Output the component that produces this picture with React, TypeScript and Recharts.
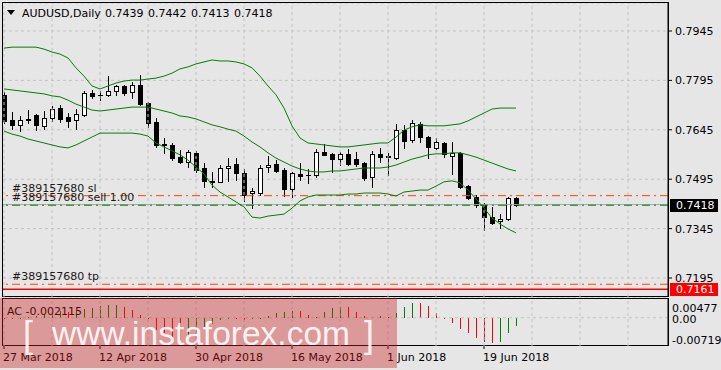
import React from 'react';
import { ComposedChart, Bar, Line, XAxis, YAxis, CartesianGrid, ReferenceLine, ReferenceArea } from 'recharts';

const FONT = 'DejaVu Sans';

const dateTickIdx = [0, 12, 24, 36, 48, 60];
const dateTickLabels = ['27 Mar 2018', '12 Apr 2018', '30 Apr 2018', '16 May 2018', '1 Jun 2018', '19 Jun 2018'];
const gridX = [0, 6, 12, 18, 24, 30, 36, 42, 48, 54, 60, 66, 72, 78];
const priceTicks = [0.7195, 0.7345, 0.7495, 0.7645, 0.7795, 0.7945];
const acTicks = [-0.00719, 0, 0.00477];

const opens = [0.7750, 0.7675, 0.7660, 0.7675, 0.7690, 0.7657, 0.7681, 0.7711, 0.7684, 0.7675,
  0.7690, 0.7757, 0.7751, 0.7751, 0.7763, 0.7778, 0.7760, 0.7781, 0.7726, 0.7669,
  0.7602, 0.7599, 0.7562, 0.7547, 0.7575, 0.7529, 0.7490, 0.7487, 0.7529, 0.7541,
  0.7514, 0.7453, 0.7453, 0.7532, 0.7541, 0.7523, 0.7465, 0.7511, 0.7508, 0.7508,
  0.7578, 0.7572, 0.7556, 0.7572, 0.7556, 0.7544, 0.7502, 0.7572, 0.7566, 0.7559,
  0.7644, 0.7614, 0.7663, 0.7623, 0.7590, 0.7605, 0.7566, 0.7575, 0.7474, 0.7441,
  0.7420, 0.7380, 0.7368, 0.7374, 0.7439];
const highs = [0.7760, 0.7699, 0.7687, 0.7705, 0.7692, 0.7702, 0.7717, 0.7720, 0.7696, 0.7708,
  0.7763, 0.7766, 0.7763, 0.7808, 0.7781, 0.7781, 0.7790, 0.7811, 0.7728, 0.7681,
  0.7620, 0.7605, 0.7584, 0.7584, 0.7581, 0.7544, 0.7517, 0.7538, 0.7559, 0.7559,
  0.7526, 0.7468, 0.7538, 0.7566, 0.7553, 0.7529, 0.7517, 0.7544, 0.7526, 0.7587,
  0.7602, 0.7574, 0.7578, 0.7587, 0.7578, 0.7547, 0.7581, 0.7590, 0.7575, 0.7663,
  0.7660, 0.7675, 0.7669, 0.7625, 0.7620, 0.7607, 0.7608, 0.7578, 0.7477, 0.7447,
  0.7423, 0.7411, 0.7389, 0.7441, 0.7442];
const lows = [0.7665, 0.7647, 0.7641, 0.7666, 0.7644, 0.7647, 0.7672, 0.7669, 0.7654, 0.7647,
  0.7688, 0.7742, 0.7735, 0.7748, 0.7751, 0.7751, 0.7742, 0.7720, 0.7654, 0.7593,
  0.7575, 0.7553, 0.7544, 0.7532, 0.7517, 0.7471, 0.7471, 0.7487, 0.7490, 0.7493,
  0.7429, 0.7407, 0.7447, 0.7517, 0.7517, 0.7444, 0.7441, 0.7493, 0.7484, 0.7502,
  0.7567, 0.7517, 0.7538, 0.7539, 0.7535, 0.7493, 0.7471, 0.7547, 0.7508, 0.7556,
  0.7590, 0.7608, 0.7608, 0.7559, 0.7587, 0.7562, 0.7511, 0.7468, 0.7435, 0.7411,
  0.7341, 0.7360, 0.7347, 0.7371, 0.7413];
const closes = [0.7673, 0.7660, 0.7675, 0.7678, 0.7660, 0.7681, 0.7708, 0.7678, 0.7672, 0.7693,
  0.7757, 0.7748, 0.7750, 0.7763, 0.7778, 0.7757, 0.7781, 0.7723, 0.7666, 0.7599,
  0.7600, 0.7559, 0.7547, 0.7578, 0.7523, 0.7490, 0.7487, 0.7529, 0.7535, 0.7514,
  0.7447, 0.7459, 0.7529, 0.7538, 0.7520, 0.7465, 0.7514, 0.7505, 0.7507, 0.7578,
  0.7569, 0.7556, 0.7572, 0.7541, 0.7541, 0.7499, 0.7572, 0.7562, 0.7561, 0.7644,
  0.7611, 0.7666, 0.7623, 0.7593, 0.7608, 0.7572, 0.7575, 0.7471, 0.7438, 0.7417,
  0.7380, 0.7362, 0.7374, 0.7438, 0.7418];

const bandUpper = [0.7893, 0.7896, 0.7896, 0.7896, 0.7896, 0.7890, 0.7881, 0.7875, 0.7863, 0.7833,
  0.7808, 0.7778, 0.7769, 0.7778, 0.7787, 0.7793, 0.7796, 0.7796, 0.7799, 0.7802,
  0.7808, 0.7817, 0.7830, 0.7836, 0.7845, 0.7851, 0.7857, 0.7854, 0.7854, 0.7851,
  0.7845, 0.7833, 0.7808, 0.7778, 0.7751, 0.7711, 0.7657, 0.7620, 0.7605, 0.7602,
  0.7599, 0.7596, 0.7593, 0.7593, 0.7596, 0.7599, 0.7602, 0.7605, 0.7605, 0.7623,
  0.7644, 0.7654, 0.7660, 0.7657, 0.7657, 0.7657, 0.7660, 0.7663, 0.7672, 0.7684,
  0.7696, 0.7708, 0.7711, 0.7711, 0.7711];
const bandMiddle = [0.7769, 0.7766, 0.7763, 0.7760, 0.7757, 0.7754, 0.7748, 0.7745, 0.7735, 0.7723,
  0.7714, 0.7705, 0.7702, 0.7705, 0.7708, 0.7711, 0.7714, 0.7714, 0.7714, 0.7708,
  0.7702, 0.7696, 0.7687, 0.7684, 0.7678, 0.7669, 0.7660, 0.7654, 0.7647, 0.7641,
  0.7626, 0.7608, 0.7593, 0.7575, 0.7559, 0.7547, 0.7535, 0.7526, 0.7520, 0.7517,
  0.7517, 0.7520, 0.7520, 0.7523, 0.7526, 0.7529, 0.7529, 0.7529, 0.7532, 0.7538,
  0.7547, 0.7556, 0.7562, 0.7569, 0.7572, 0.7572, 0.7575, 0.7575, 0.7569, 0.7562,
  0.7553, 0.7544, 0.7535, 0.7526, 0.7520];
const bandLower = [0.7641, 0.7632, 0.7626, 0.7617, 0.7611, 0.7605, 0.7599, 0.7593, 0.7590, 0.7599,
  0.7611, 0.7623, 0.7635, 0.7635, 0.7635, 0.7635, 0.7635, 0.7632, 0.7626, 0.7605,
  0.7593, 0.7581, 0.7569, 0.7553, 0.7532, 0.7511, 0.7477, 0.7456, 0.7441, 0.7426,
  0.7411, 0.7380, 0.7377, 0.7383, 0.7386, 0.7389, 0.7407, 0.7429, 0.7441, 0.7447,
  0.7447, 0.7447, 0.7447, 0.7450, 0.7450, 0.7453, 0.7453, 0.7453, 0.7450, 0.7444,
  0.7456, 0.7459, 0.7462, 0.7462, 0.7474, 0.7487, 0.7490, 0.7484, 0.7462, 0.7435,
  0.7407, 0.7377, 0.7359, 0.7344, 0.7332];

const acValues = [-0.0002, -0.0003, -0.0002, 0.0002, 0.0005, 0.0009, 0.0013, 0.0016, 0.0015, 0.0018,
  0.0022, 0.0026, 0.0030, 0.0032, 0.0033, 0.0028, 0.0019, 0.0007, -0.0004, -0.0030,
  -0.0040, -0.0048, -0.0056, -0.0048, -0.0037, -0.0025, -0.0015, -0.0007, -0.0002, -0.0003,
  -0.0005, -0.0004, -0.0001, 0.0004, 0.0012, 0.0015, 0.0017, 0.0016, 0.0007, 0.0003,
  0.0014, 0.0025, 0.0028, 0.0027, 0.0015, 0.0005, 0.0003, 0.0004, 0.0002, 0.0013,
  0.0027, 0.0038, 0.0037, 0.0031, 0.0013, -0.0001, -0.0013, -0.0029, -0.0038, -0.0051,
  -0.0062, -0.0065, -0.0062, -0.0040, -0.0021];

const slPrice = 0.7445;
const entryPrice = 0.7416;
const bidPrice = 0.7418;
const tpPrice = 0.7176;
const alertPrice = 0.7161;

const X_DOMAIN: [number, number] = [-0.125, 83];
const Y_DOMAIN: [number, number] = [0.71373, 0.803];
const AC_DOMAIN: [number, number] = [-0.00719, 0.00477];

const data = opens.map((o, i) => ({
  i,
  o,
  h: highs[i],
  l: lows[i],
  c: closes[i],
  up: bandUpper[i],
  mid: bandMiddle[i],
  lo: bandLower[i],
  ac: acValues[i],
  acRise: i > 0 && acValues[i] > acValues[i - 1],
}));

const Candle = (props: any) => {
  const { x, y, width, height, payload } = props;
  if (x == null || y == null) return null;
  const { o, h, l, c } = payload;
  const cx = Math.round(x + width / 2);
  const span = h - l;
  const py = (v: number) => (span > 0 ? y + ((h - v) / span) * height : y);
  const top = Math.round(py(Math.max(o, c)));
  const bot = Math.round(py(Math.min(o, c)));
  const yH = Math.round(y);
  const yL = Math.round(y + height);
  const bull = c >= o;
  return (
    <g>
      <line x1={cx + 0.5} x2={cx + 0.5} y1={yH} y2={yL + 1} stroke="#000" strokeWidth={1} />
      {bot - top >= 1 ? (
        <rect x={cx - 1.5} y={top + 0.5} width={4} height={bot - top} fill={bull ? '#fff' : '#000'} stroke="#000" strokeWidth={1} />
      ) : (
        <line x1={cx - 2} x2={cx + 3} y1={top + 0.5} y2={top + 0.5} stroke="#000" strokeWidth={1} />
      )}
    </g>
  );
};

const AcBar = (props: any) => {
  const { x, y, width, height, payload } = props;
  if (x == null || y == null) return null;
  const cx = Math.round(x + width / 2);
  const y1 = Math.round(y);
  const y2 = Math.round(y + height);
  return <line x1={cx + 0.5} x2={cx + 0.5} y1={y1} y2={Math.max(y2, y1 + 1)} stroke={payload.acRise ? '#008000' : '#ff0000'} strokeWidth={1} />;
};

const Frame = (props: any) => {
  const { x, y, width, height } = props;
  return <rect x={Math.round(x) - 0.5} y={Math.round(y) - 0.5} width={Math.round(width) + 1} height={Math.round(height)} fill="none" stroke="#000" strokeWidth={1} />;
};

const orderLabel = (text: string) => (props: any) => {
  const vb = props.viewBox || { x: 0, y: 0 };
  return (
    <text x={vb.x + 9} y={vb.y - 4} fontSize={11} fontFamily={FONT} fill="#1a1a1a">
      {text}
    </text>
  );
};

const priceBox = (text: string, bg: string) => (props: any) => {
  const vb = props.viewBox || { x: 0, y: 0, width: 0 };
  const bx = vb.x + vb.width + 2;
  const cy = vb.y;
  return (
    <g>
      <rect x={bx} y={Math.round(cy) - 6} width={48} height={13} fill={bg} />
      <text x={bx + 6} y={cy} dy="0.36em" fontSize={11} fontFamily={FONT} fill="#fff">
        {text}
      </text>
    </g>
  );
};

const DateTick = (props: any) => {
  const { x, y, payload } = props;
  const k = dateTickIdx.indexOf(payload.value);
  return (
    <text x={x - 1} y={y} dy={10} fontSize={11} fontFamily={FONT} fill="#000" textAnchor="start">
      {k >= 0 ? dateTickLabels[k] : ''}
    </text>
  );
};

const AcTick = (props: any) => {
  const { x, y, payload } = props;
  const v = payload.value;
  const label = v === 0 ? '0.00' : v > 0 ? v.toFixed(5) : v.toFixed(5);
  const dy = v > 0 ? 9 : v < 0 ? -6 : 1;
  return (
    <text x={x} y={y + dy} dy="0.36em" fontSize={11} fontFamily={FONT} fill="#000" textAnchor="start">
      {label}
    </text>
  );
};

const gridStroke = '#c3c3c3';

export default function App() {
  return (
    <div style={{ position: 'absolute', left: 0, top: 0, width: 721, height: 370, background: '#e6e6e6', overflow: 'hidden', fontFamily: FONT }}>
      <div style={{ position: 'absolute', left: 0, top: 0 }}>
        <ComposedChart width={721} height={300} data={data} margin={{ top: 3, right: 0, left: 3, bottom: 3 }}>
          <XAxis dataKey="i" type="number" domain={X_DOMAIN} hide allowDataOverflow />
          <YAxis
            orientation="right"
            width={53}
            domain={Y_DOMAIN}
            ticks={priceTicks}
            interval={0}
            allowDataOverflow
            tickSize={4}
            tickMargin={3}
            tickFormatter={(v: number) => v.toFixed(4)}
            tick={{ fontSize: 11, fill: '#000', fontFamily: FONT }}
            axisLine={{ stroke: '#000' }}
            tickLine={{ stroke: '#000' }}
          />
          <CartesianGrid vertical={false} stroke={gridStroke} strokeDasharray="3 3" />
          {gridX.map((g) => (
            <ReferenceLine key={'gx' + g} x={g} stroke={gridStroke} strokeDasharray="3 3" />
          ))}
          <ReferenceArea x1={X_DOMAIN[0]} x2={X_DOMAIN[1]} y1={Y_DOMAIN[0]} y2={Y_DOMAIN[1]} shape={Frame} ifOverflow="visible" />
          <ReferenceLine y={bidPrice} stroke="#a8a8a8" label={priceBox('0.7418', '#000')} />
          <ReferenceLine y={slPrice} stroke="#ff4500" strokeDasharray="8 4 2 4" label={orderLabel('#389157680 sl')} />
          <ReferenceLine y={entryPrice} stroke="#008000" strokeDasharray="8 4 2 4" label={orderLabel('#389157680 sell 1.00')} />
          <ReferenceLine y={tpPrice} stroke="#ff4500" strokeDasharray="8 4 2 4" label={orderLabel('#389157680 tp')} />
          <ReferenceLine y={alertPrice} stroke="#ff0000" strokeWidth={1.5} label={priceBox('0.7161', '#ff0000')} />
          <Line dataKey="up" stroke="#008000" strokeWidth={1} dot={false} isAnimationActive={false} type="linear" />
          <Line dataKey="mid" stroke="#008000" strokeWidth={1} dot={false} isAnimationActive={false} type="linear" />
          <Line dataKey="lo" stroke="#008000" strokeWidth={1} dot={false} isAnimationActive={false} type="linear" />
          <Bar dataKey={(d: any) => [d.l, d.h]} barSize={5} shape={(p: any) => <Candle {...p} />} isAnimationActive={false} />
        </ComposedChart>
      </div>
      <div style={{ position: 'absolute', left: 0, top: 296 }}>
        <ComposedChart width={721} height={74} data={data} margin={{ top: 3, right: 0, left: 3, bottom: 0 }}>
          <XAxis
            dataKey="i"
            type="number"
            domain={X_DOMAIN}
            ticks={dateTickIdx}
            interval={0}
            allowDataOverflow
            height={24}
            tickSize={3}
            tickMargin={2}
            axisLine={false}
            tickLine={{ stroke: '#000' }}
            tick={<DateTick />}
          />
          <YAxis
            orientation="right"
            width={53}
            domain={AC_DOMAIN}
            ticks={acTicks}
            interval={0}
            allowDataOverflow
            tickSize={0}
            tickMargin={4}
            tickLine={false}
            axisLine={{ stroke: '#000' }}
            tick={<AcTick />}
          />
          {gridX.map((g) => (
            <ReferenceLine key={'ax' + g} x={g} stroke={gridStroke} strokeDasharray="3 3" />
          ))}
          <ReferenceLine y={0} stroke={gridStroke} strokeDasharray="3 3" />
          <ReferenceArea x1={X_DOMAIN[0]} x2={X_DOMAIN[1]} y1={AC_DOMAIN[0]} y2={AC_DOMAIN[1]} shape={Frame} ifOverflow="visible" />
          <Bar dataKey={(d: any) => [Math.min(0, d.ac), Math.max(0, d.ac)]} barSize={5} shape={(p: any) => <AcBar {...p} />} isAnimationActive={false} />
        </ComposedChart>
      </div>
      <svg width={721} height={370} style={{ position: 'absolute', left: 0, top: 0, pointerEvents: 'none' }}>
        <polygon points="7,10 15,10 11,15" fill="#000" />
        <text x={22} y={17} fontSize={11} fontFamily={FONT} fill="#000">AUDUSD,Daily</text>
        <text x={105} y={17} fontSize={11} fontFamily={FONT} fill="#000">0.7439</text>
        <text x={148} y={17} fontSize={11} fontFamily={FONT} fill="#000">0.7442</text>
        <text x={191} y={17} fontSize={11} fontFamily={FONT} fill="#000">0.7413</text>
        <text x={234} y={17} fontSize={11} fontFamily={FONT} fill="#000">0.7418</text>
        <text x={7} y={315} fontSize={11} fontFamily={FONT} fill="#000">AC -0.002115</text>
        <rect x={0} y={298} width={397} height={70} fill="rgba(205,30,30,0.38)" />
        <text x={23} y={347} fontSize={36} fontFamily="Liberation Sans" fill="#fff" fillOpacity={0.9}>[</text>
        <text x={52} y={345} fontSize={34} fontFamily="Liberation Sans" fill="#fff" fillOpacity={0.9} textLength={298} lengthAdjust="spacingAndGlyphs">www.instaforex.com</text>
        <text x={364} y={347} fontSize={36} fontFamily="Liberation Sans" fill="#fff" fillOpacity={0.9}>]</text>
      </svg>
    </div>
  );
}
